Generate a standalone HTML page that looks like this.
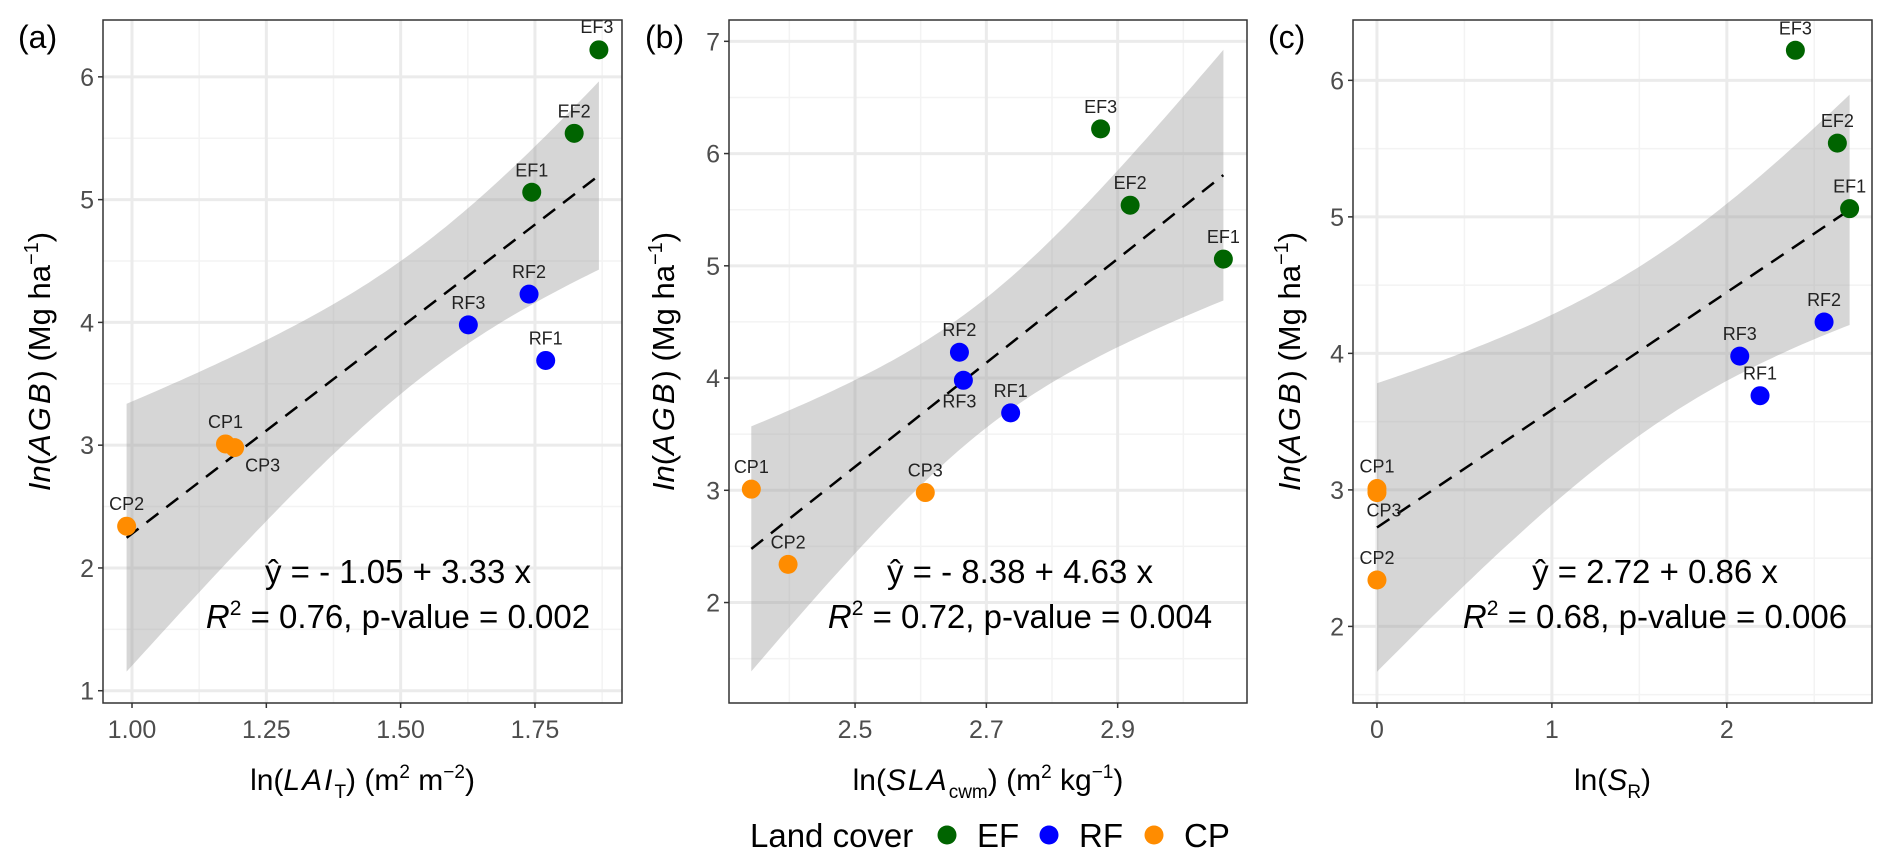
<!DOCTYPE html>
<html><head><meta charset="utf-8">
<style>
html,body{margin:0;padding:0;background:#fff;}
svg{display:block;font-family:"Liberation Sans",Arial,sans-serif;}
</style></head>
<body>
<svg id="chart" width="1892" height="861" viewBox="0 0 1892 861" xmlns="http://www.w3.org/2000/svg"></svg>
<script>
const sites = ["EF1","EF2","EF3","RF1","RF2","RF3","CP1","CP2","CP3"];
const landCover = ["EF","EF","EF","RF","RF","RF","CP","CP","CP"];
const lnAGB = [5.06,5.54,6.22,3.69,4.23,3.98,3.01,2.34,2.98];
const lnLAI = [1.744,1.823,1.869,1.770,1.739,1.626,1.174,0.990,1.191];
const lnSLA = [3.061,2.919,2.874,2.737,2.659,2.665,2.342,2.398,2.607];
const lnSR = [2.702,2.632,2.392,2.190,2.556,2.074,0,0,0];
const ticksA = [1.00,1.25,1.50,1.75];
const tickLabelsA = ["1.00","1.25","1.50","1.75"];
const ticksB = [2.5,2.7,2.9];
const tickLabelsB = ["2.5","2.7","2.9"];
const ticksC = [0,1,2];
const tickLabelsC = ["0","1","2"];
const yTicksA = [1,2,3,4,5,6];
const yTicksB = [2,3,4,5,6,7];
const yTicksC = [2,3,4,5,6];
const eqA = ["- 1.05 + 3.33 x","0.76","0.002"];
const eqB = ["- 8.38 + 4.63 x","0.72","0.004"];
const eqC = ["2.72 + 0.86 x","0.68","0.006"];
const colors = {EF:"#006400",RF:"#0000ff",CP:"#ff8c00"};

const svg = document.getElementById('chart');
const NS = "http://www.w3.org/2000/svg";
function mk(tag, attrs, parent){
  const e = document.createElementNS(NS, tag);
  for (const k in attrs) e.setAttribute(k, attrs[k]);
  (parent||svg).appendChild(e);
  return e;
}

function panel(cfg){
  const g = mk('g',{});
  
  
  const L=cfg.box[0], R=cfg.box[1], T=20, B=703;
  const sx = v => L + (v-cfg.xd[0])/(cfg.xd[1]-cfg.xd[0])*(R-L);
  const sy = v => B - (v-cfg.yd[0])/(cfg.yd[1]-cfg.yd[0])*(B-T);
  mk('rect',{x:L,y:T,width:R-L,height:B-T,fill:'#fff'},g);
  for (let v=Math.ceil(cfg.yd[0]*2)/2; v<=cfg.yd[1]; v+=0.5){
    if (Math.abs(v-Math.round(v))>1e-6) mk('line',{x1:L,x2:R,y1:sy(v),y2:sy(v),stroke:'#f3f3f3','stroke-width':1.5},g);
  }
  for (let i=0;i<cfg.xt.length+1;i++){
    const step = cfg.xt[1]-cfg.xt[0];
    const v = cfg.xt[0]-step/2 + i*step;
    if(v>cfg.xd[0]&&v<cfg.xd[1]) mk('line',{x1:sx(v),x2:sx(v),y1:T,y2:B,stroke:'#f3f3f3','stroke-width':1.5},g);
  }
  cfg.yt.forEach(v=>{ const l=mk('line',{x1:L,x2:R,y1:sy(v),y2:sy(v),stroke:'#ebebeb','stroke-width':3},g);
     });
  cfg.xt.forEach(v=>{ const l=mk('line',{x1:sx(v),x2:sx(v),y1:T,y2:B,stroke:'#ebebeb','stroke-width':3},g);
     });
  const xs=cfg.x, ys=lnAGB, n=xs.length;
  const xm=xs.reduce((a,b)=>a+b)/n, ym=ys.reduce((a,b)=>a+b)/n;
  let sxx=0,sxy=0; for(let i=0;i<n;i++){sxx+=(xs[i]-xm)**2; sxy+=(xs[i]-xm)*(ys[i]-ym);}
  const b1=sxy/sxx, b0=ym-b1*xm;
  let sse=0; for(let i=0;i<n;i++) sse+=(ys[i]-b0-b1*xs[i])**2;
  const s=Math.sqrt(sse/(n-2)), t=2.3646;
  const x0=Math.min(...xs), x1=Math.max(...xs);
  let up=[], lo=[];
  for(let k=0;k<=80;k++){ const xv=x0+(x1-x0)*k/80; const f=b0+b1*xv;
    const se=s*Math.sqrt(1/n+(xv-xm)**2/sxx);
    up.push(sx(xv).toFixed(1)+','+sy(f+t*se).toFixed(1)); lo.unshift(sx(xv).toFixed(1)+','+sy(f-t*se).toFixed(1));}
  const band=mk('polygon',{points:up.concat(lo).join(' '),fill:'#999999','fill-opacity':0.4},g);
   
  const fl=mk('line',{x1:sx(x0),y1:sy(b0+b1*x0),x2:sx(x1),y2:sy(b0+b1*x1),stroke:'#000','stroke-width':2.5,'stroke-dasharray':'15,10'},g);
   
  for(let i=0;i<n;i++){
    const c=mk('circle',{cx:sx(xs[i]),cy:sy(ys[i]),r:9.5,fill:colors[landCover[i]]},g);
     
    const off=cfg.off[sites[i]]||[0,-16];
    const tx=mk('text',{x:sx(xs[i])+off[0],y:sy(ys[i])+off[1],'font-size':18,'text-anchor':'middle',fill:'#222'},g);
    tx.textContent=sites[i];
     
  }
  mk('rect',{x:L,y:T,width:R-L,height:B-T,fill:'none',stroke:'#333','stroke-width':1.5},g);
  cfg.yt.forEach(v=>{ mk('line',{x1:L-5,x2:L,y1:sy(v),y2:sy(v),stroke:'#333','stroke-width':1.5},g);
    const tl=mk('text',{x:L-9,y:sy(v)+9,'font-size':25,'text-anchor':'end',fill:'#4d4d4d'},g); tl.textContent=v;
     });
  cfg.xt.forEach((v,i)=>{ mk('line',{x1:sx(v),x2:sx(v),y1:B,y2:B+5,stroke:'#333','stroke-width':1.5},g);
    const tl=mk('text',{x:sx(v),y:B+35,'font-size':25,'text-anchor':'middle',fill:'#4d4d4d'},g); tl.textContent=cfg.xl[i];
     });
  const yt=mk('text',{transform:`translate(${cfg.ytx},${(T+B)/2}) rotate(-90)`,'font-size':31,'text-anchor':'middle',fill:'#000'},g);
  yt.innerHTML='<tspan font-style="italic">In</tspan>(<tspan font-style="italic" letter-spacing="3">AGB</tspan>) (Mg ha<tspan dy="-12" font-size="20">−1</tspan><tspan dy="12">)</tspan>';
   
  const xt=mk('text',{x:(L+R)/2,y:790,'font-size':30,'text-anchor':'middle',fill:'#000'},g);
  xt.innerHTML=cfg.xtitle;
   
  const tg=mk('text',{x:cfg.tagx,y:48,'font-size':32,fill:'#000'},g); tg.textContent=cfg.tag;
   
  const e1=mk('text',{x:cfg.eqx,y:583,'font-size':33,'text-anchor':'middle',fill:'#000'},g);
  e1.textContent='ŷ = '+cfg.eq[0];
   
  const e2=mk('text',{x:cfg.eqx,y:628,'font-size':33,'text-anchor':'middle',fill:'#000'},g);
  e2.innerHTML='<tspan font-style="italic">R</tspan><tspan dy="-13" font-size="21">2</tspan><tspan dy="13"> = '+cfg.eq[1]+', p-value = '+cfg.eq[2]+'</tspan>';
   
}

panel({name:'panel-a',box:[103,622],xd:[0.946,1.912],yd:[0.9,6.463],x:lnLAI,xt:ticksA,xl:tickLabelsA,yt:yTicksA,
  ytx:50,tagx:18,tag:'(a)',eqx:398,eq:eqA,off:{CP3:[28,24],EF3:[-2,-17]},
  xtitle:'ln(<tspan font-style="italic" letter-spacing="2">LAI</tspan><tspan dy="8" font-size="19">T</tspan><tspan dy="-8">) (m</tspan><tspan dy="-12" font-size="19">2</tspan><tspan dy="12"> m</tspan><tspan dy="-12" font-size="19">−2</tspan><tspan dy="12">)</tspan>'});
panel({name:'panel-b',box:[729,1247],xd:[2.308,3.097],yd:[1.105,7.19],x:lnSLA,xt:ticksB,xl:tickLabelsB,yt:yTicksB,
  ytx:674,tagx:645,tag:'(b)',eqx:1020,eq:eqB,off:{RF3:[-4,27]},
  xtitle:'ln(<tspan font-style="italic" letter-spacing="2">SLA</tspan><tspan dy="8" font-size="19">cwm</tspan><tspan dy="-8">) (m</tspan><tspan dy="-12" font-size="19">2</tspan><tspan dy="12"> kg</tspan><tspan dy="-12" font-size="19">−1</tspan><tspan dy="12">)</tspan>'});
panel({name:'panel-c',box:[1353,1872],xd:[-0.137,2.83],yd:[1.439,6.442],x:lnSR,xt:ticksC,xl:tickLabelsC,yt:yTicksC,
  ytx:1300,tagx:1268,tag:'(c)',eqx:1655,eq:eqC,off:{CP3:[7,24]},
  xtitle:'ln(<tspan font-style="italic">S</tspan><tspan dy="8" font-size="19">R</tspan><tspan dy="-8">)</tspan>'});

const lg=mk('g',{});
 
const lt=mk('text',{x:750,y:847,'font-size':33,fill:'#000'},lg); lt.textContent='Land cover';
 
[["EF",947],["RF",1049],["CP",1154]].forEach(([k,x])=>{
  const c=mk('circle',{cx:x,cy:835,r:9.5,fill:colors[k]},lg);
   
  const t=mk('text',{x:x+30,y:847,'font-size':33,fill:'#000'},lg); t.textContent=k;
   
});
</script>
</body></html>
